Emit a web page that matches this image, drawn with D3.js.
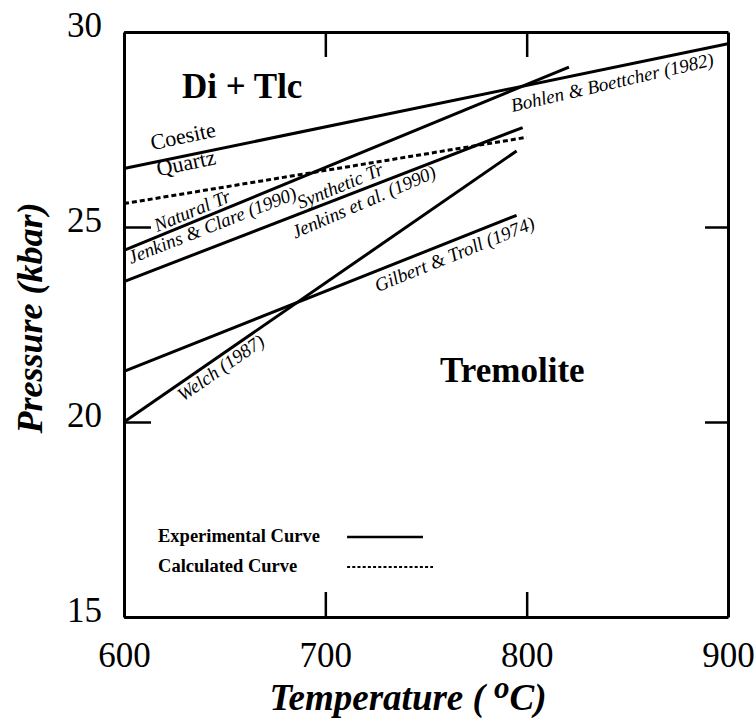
<!DOCTYPE html>
<html>
<head>
<meta charset="utf-8">
<script src="https://cdn.jsdelivr.net/npm/d3@7"></script>
<style>
  body { margin: 0; background: #fff; }
  svg { display: block; }
</style>
</head>
<body>
<svg id="chart"></svg>
<script>
// reaction curves, Temperature (C) vs Pressure (kbar)
const curveNames = ["Bohlen & Boettcher (1982)", "Natural Tr calc", "Jenkins & Clare (1990)",
                    "Jenkins et al. (1990)", "Gilbert & Troll (1974)", "Welch (1987)"];
const curveKinds = ["exp", "calc", "exp", "exp", "exp", "exp"];
const curveT = [[600, 900], [600, 800], [600, 821], [600, 798], [600, 795], [600, 795]];
const curveP = [[26.5, 29.7], [25.6, 27.3], [24.4, 29.1], [23.6, 27.55], [21.3, 25.3], [20.0, 26.95]];

const xTicks = [600, 700, 800, 900];
const yTicks = [15, 20, 25, 30];

const legendNames = ["Experimental Curve", "Calculated Curve"];
const legendKinds = ["exp", "calc"];

// text annotations placed in data units
const notes = [
    { text: "Bohlen & Boettcher (1982)", t: 793, p: 27.95, rot: -13, cls: "it" },
    { text: "Coesite", t: 614, p: 26.97, rot: -12, cls: "rm" },
    { text: "Quartz", t: 617, p: 26.3, rot: -12, cls: "rm" },
    { text: "Natural Tr", t: 616.5, p: 24.87, rot: -22.5, cls: "it" },
    { text: "Jenkins & Clare (1990)", t: 603.5, p: 24.05, rot: -21.5, cls: "it" },
    { text: "Synthetic Tr", t: 687.5, p: 25.46, rot: -22.5, cls: "it" },
    { text: "Jenkins et al. (1990)", t: 685, p: 24.7, rot: -23.5, cls: "it" },
    { text: "Gilbert & Troll (1974)", t: 726, p: 23.33, rot: -22, cls: "it" },
    { text: "Welch (1987)", t: 629.3, p: 20.51, rot: -35, cls: "it" },
    { text: "Di + Tlc", t: 628.8, p: 28.31, rot: 0, cls: "big" },
    { text: "Tremolite", t: 757, p: 21.03, rot: 0, cls: "big" },
];

const width = 756, height = 728;
const margin = { top: 32, right: 28, bottom: 111, left: 124 };
const innerW = width - margin.left - margin.right;
const innerH = height - margin.top - margin.bottom;

const svg = d3.select("#chart")
    .attr("width", width)
    .attr("height", height);

const g = svg.append("g")
    .attr("transform", `translate(${margin.left},${margin.top})`);

const x = d3.scaleLinear().domain([600, 900]).range([0, innerW]);
const y = d3.scaleLinear().domain([15, 30]).range([innerH, 0]);

const serif = "'Liberation Serif', 'Times New Roman', serif";

function styleAxis(sel) {
    sel.select(".domain").attr("stroke", "#000").attr("stroke-width", 3);
    sel.selectAll(".tick line").attr("stroke", "#000").attr("stroke-width", 2.5);
    sel.selectAll(".tick text")
        .attr("fill", "#000")
        .attr("font-family", serif)
        .attr("font-size", 35);
}

// bottom / left axes with labels, ticks pointing inward
g.append("g")
    .attr("transform", `translate(0,${innerH})`)
    .call(d3.axisBottom(x).tickValues(xTicks).tickSize(-25).tickSizeOuter(0).tickPadding(25))
    .call(styleAxis);

g.append("g")
    .call(d3.axisLeft(y).tickValues(yTicks).tickSize(-27).tickSizeOuter(0).tickPadding(22))
    .call(styleAxis)
    .selectAll(".tick text").attr("dy", "0.14em");

// top / right axes, ticks only
g.append("g")
    .call(d3.axisTop(x).tickValues([700, 800]).tickSize(-25).tickSizeOuter(0).tickFormat(""))
    .call(styleAxis);

g.append("g")
    .attr("transform", `translate(${innerW},0)`)
    .call(d3.axisRight(y).tickValues([20, 25]).tickSize(-23).tickSizeOuter(0).tickFormat(""))
    .call(styleAxis);

// curves
const line = d3.line()
    .x(d => x(d[0]))
    .y(d => y(d[1]));

g.selectAll("path.curve")
    .data(curveNames.map((name, i) => ({
        name: name,
        kind: curveKinds[i],
        pts: curveT[i].map((t, j) => [t, curveP[i][j]])
    })))
    .enter()
    .append("path")
    .attr("class", "curve")
    .attr("d", d => line(d.pts))
    .attr("fill", "none")
    .attr("stroke", "#000")
    .attr("stroke-width", 3)
    .attr("stroke-dasharray", d => d.kind === "calc" ? "5,3" : null);

// annotations
g.selectAll("text.note")
    .data(notes).enter()
    .append("text")
    .attr("class", "note")
    .attr("transform", d => `translate(${x(d.t)},${y(d.p)}) rotate(${d.rot})`)
    .attr("font-family", serif)
    .attr("font-style", d => d.cls === "it" ? "italic" : "normal")
    .attr("font-weight", d => d.cls === "big" ? "bold" : "normal")
    .attr("font-size", d => d.cls === "big" ? 35 : (d.cls === "rm" ? 22 : 19))
    .text(d => d.text);

// legend
const legendP = [17.05, 16.28];
const legend = g.append("g");
legendNames.forEach((name, i) => {
    legend.append("text")
        .attr("x", x(616.9))
        .attr("y", y(legendP[i]) + 5)
        .attr("font-family", serif)
        .attr("font-weight", "bold")
        .attr("font-size", 18.5)
        .text(name);
    legend.append("line")
        .attr("x1", x(710.8))
        .attr("x2", x(legendKinds[i] === "calc" ? 753.5 : 748.5))
        .attr("y1", y(legendP[i]))
        .attr("y2", y(legendP[i]))
        .attr("stroke", "#000")
        .attr("stroke-width", legendKinds[i] === "calc" ? 2 : 2.5)
        .attr("stroke-dasharray", legendKinds[i] === "calc" ? "3,2.2" : null);
});

// axis titles
const xTitle = svg.append("text")
    .attr("x", margin.left + innerW / 2 - 18)
    .attr("y", 710)
    .attr("text-anchor", "middle")
    .attr("font-family", serif)
    .attr("font-weight", "bold")
    .attr("font-style", "italic")
    .attr("font-size", 37);
xTitle.append("tspan").text("Temperature ( ");
xTitle.append("tspan").attr("dy", -12).attr("font-size", 31).text("o");
xTitle.append("tspan").attr("dy", 12).text("C)");

svg.append("text")
    .attr("transform", `translate(42,${318}) rotate(-90)`)
    .attr("text-anchor", "middle")
    .attr("font-family", serif)
    .attr("font-weight", "bold")
    .attr("font-style", "italic")
    .attr("font-size", 36)
    .text("Pressure (kbar)");
</script>
</body>
</html>
